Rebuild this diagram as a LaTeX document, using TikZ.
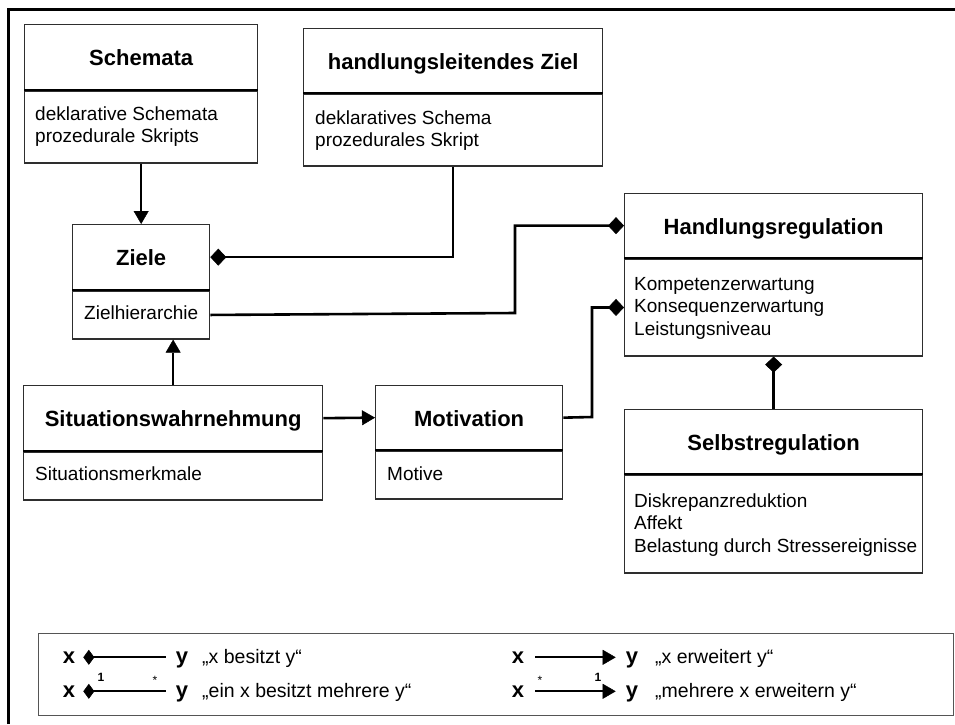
\documentclass[tikz,border=0pt]{standalone}
\usepackage{fontspec}
\setmainfont{Liberation Sans}
\usetikzlibrary{arrows.meta}
\definecolor{boxline}{HTML}{2E2E2E}
\definecolor{legendline}{HTML}{555555}
\begin{document}
\begin{tikzpicture}[x=1pt,y=-1pt,
  classtitle/.style={draw=boxline, fill=white, line width=1.3pt, anchor=north west, inner sep=0pt,
    text height=21pt, text depth=4.2pt, font=\fontsize{22}{26}\selectfont\bfseries},
  classbody/.style={draw=boxline, fill=white, line width=1.3pt, anchor=north west, inner sep=0pt},
  members/.style={anchor=north west, inner sep=0pt, align=left, font=\fontsize{19}{22.3}\selectfont},
  divider/.style={line width=2pt, draw=black},
  link/.style={line width=2.6pt, line join=miter},
  has/.style={link, -{Diamond[length=16pt,width=17pt,line width=0.6pt]}},
  ext/.style={link, -{Triangle[length=13pt,width=15pt,line width=0.4pt]}},
  legsym/.style={anchor=base, inner sep=0pt, text height=11.4pt, text depth=0pt, font=\fontsize{22}{26}\selectfont\bfseries},
  legtext/.style={anchor=base west, inner sep=0pt, font=\fontsize{19.5}{22}\selectfont},
  mult/.style={anchor=base, inner sep=0pt, font=\fontsize{12}{14}\selectfont\bfseries},
  legline/.style={line width=2pt},
  leghas/.style={legline, {Diamond[length=11pt,width=15pt,line width=0.6pt]}-},
  legext/.style={legline, -{Triangle[length=13pt,width=15pt,line width=0.4pt]}},
]
\useasboundingbox (0,0) rectangle (955,724);

% outer frame
\draw[line width=3pt] (8,724) -- (8,9) -- (955,9);

% ---------- classes ----------
% Schemata
\node[classtitle, minimum width=233pt, minimum height=65pt] (schT) at (24,24) {Schemata};
\node[classbody, minimum width=233pt, minimum height=72pt] (schB) at (schT.south west) {};
\draw[divider] (schT.south west) -- (schT.south east);
\node[members] (schM) at ([shift={(11pt,-14.5pt)}]schB.north west)
  {\rule{0pt}{15pt}deklarative Schemata\\prozedurale Skripts};

% handlungsleitendes Ziel
\node[classtitle, minimum width=299pt, minimum height=64pt] (hzT) at (303,28) {handlungsleitendes Ziel};
\node[classbody, minimum width=299pt, minimum height=72pt] (hzB) at (hzT.south west) {};
\draw[divider] (hzT.south west) -- (hzT.south east);
\node[members] (hzM) at ([shift={(12pt,-15.5pt)}]hzB.north west)
  {\rule{0pt}{15pt}deklaratives Schema\\prozedurales Skript};

% Ziele
\node[classtitle, minimum width=137pt, minimum height=65pt] (zielT) at (72,224) {Ziele};
\node[classbody, minimum width=137pt, minimum height=48pt] (zielB) at (zielT.south west) {};
\draw[divider] (zielT.south west) -- (zielT.south east);
\node[members] (zielM) at ([shift={(12pt,-13.5pt)}]zielB.north west)
  {\rule{0pt}{15pt}Zielhierarchie};

% Handlungsregulation
\node[classtitle, minimum width=298pt, minimum height=64pt] (hrT) at (624,193) {Handlungsregulation};
\node[classbody, minimum width=298pt, minimum height=97pt] (hrB) at (hrT.south west) {};
\draw[divider] (hrT.south west) -- (hrT.south east);
\node[members] (hrM) at ([shift={(10pt,-17pt)}]hrB.north west)
  {\rule{0pt}{15pt}Kompetenzerwartung\\Konsequenzerwartung\\Leistungsniveau};

% Situationswahrnehmung
\node[classtitle, minimum width=299pt, minimum height=65pt] (sitT) at (23,385) {Situationswahrnehmung};
\node[classbody, minimum width=299pt, minimum height=48pt] (sitB) at (sitT.south west) {};
\draw[divider] (sitT.south west) -- (sitT.south east);
\node[members] (sitM) at ([shift={(12pt,-14pt)}]sitB.north west)
  {\rule{0pt}{15pt}Situationsmerkmale};

% Motivation
\node[classtitle, minimum width=187pt, minimum height=64pt] (motT) at (375,385) {Motivation};
\node[classbody, minimum width=187pt, minimum height=48pt] (motB) at (motT.south west) {};
\draw[divider] (motT.south west) -- (motT.south east);
\node[members] (motM) at ([shift={(12pt,-14.5pt)}]motB.north west)
  {\rule{0pt}{15pt}Motive};

% Selbstregulation
\node[classtitle, minimum width=298pt, minimum height=64pt] (selT) at (624,409) {Selbstregulation};
\node[classbody, minimum width=298pt, minimum height=98pt] (selB) at (selT.south west) {};
\draw[divider] (selT.south west) -- (selT.south east);
\node[members] (selM) at ([shift={(10pt,-18pt)}]selB.north west)
  {\rule{0pt}{15pt}Diskrepanzreduktion\\Affekt\\Belastung durch Stressereignisse};

% ---------- relations ----------
\coordinate (bendA) at (515,313);
\coordinate (bendB) at (592,417);

\draw[ext] (schB.south) -- (zielT.north);
\draw[has] (hzB.south) |- (zielT.east);
\draw[has] (zielB.east) -- (bendA) |- (hrT.west);
\draw[has] (motT.east) -- (bendB) |- (hrB.west);
\draw[has] (selT.north) -- (hrB.south);
\draw[ext] (sitT.north) -- (sitT.north |- zielB.south);
\draw[ext] (sitT.east) -- (motT.west);

% ---------- legend ----------
\node[draw=legendline, line width=1.3pt, anchor=north west, inner sep=0pt,
  minimum width=915pt, minimum height=82pt] (legend) at (38,633) {};

% composition
\node[legsym] (lx1) at (69,663) {x};
\node[legsym] (ly1) at (182,663) {y};
\draw[leghas] ([xshift=8pt]lx1.east) -- ([xshift=-10pt]lx1.east -| ly1.west);
\node[legtext] (lt1) at (202,663) {„x besitzt y“};

\node[legsym] (lx2) at (69,697) {x};
\node[legsym] (ly2) at (182,697) {y};
\draw[leghas] ([xshift=8pt]lx2.east) -- ([xshift=-10pt]lx2.east -| ly2.west);
\node[mult] (lm2a) at (101,681) {1};
\node[mult, font=\fontsize{12}{14}\selectfont] (lm2b) at (155,684) {*};
\node[legtext] (lt2) at (202,697) {„ein x besitzt mehrere y“};

% generalisation
\node[legsym] (lx3) at (518,663) {x};
\node[legsym] (ly3) at (632,663) {y};
\draw[legext] ([xshift=11pt]lx3.east) -- ([xshift=-10pt]lx3.east -| ly3.west);
\node[legtext] (lt3) at (655,663) {„x erweitert y“};

\node[legsym] (lx4) at (518,697) {x};
\node[legsym] (ly4) at (632,697) {y};
\draw[legext] ([xshift=11pt]lx4.east) -- ([xshift=-10pt]lx4.east -| ly4.west);
\node[mult, font=\fontsize{12}{14}\selectfont] (lm4a) at (540,684) {*};
\node[mult] (lm4b) at (598,681) {1};
\node[legtext] (lt4) at (655,697) {„mehrere x erweitern y“};

\end{tikzpicture}
\end{document}
